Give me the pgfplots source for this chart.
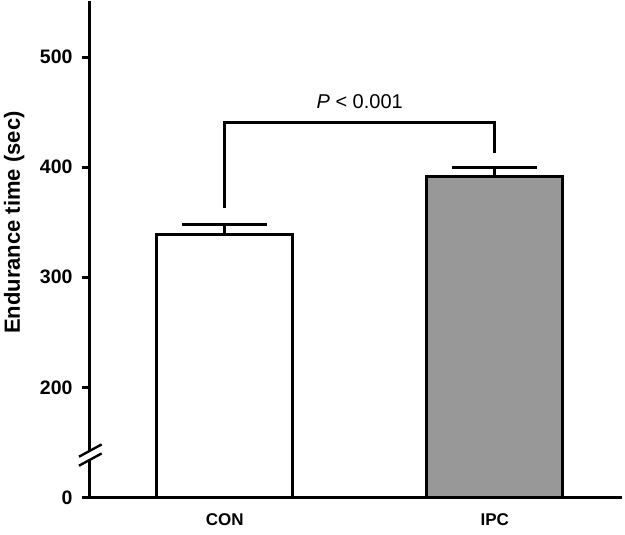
\documentclass[border=0pt]{standalone}
\usepackage{pgfplots}
\pgfplotsset{compat=1.18}
\usepackage{fontspec}
\setmainfont{Liberation Sans}
\begin{document}
\begin{tikzpicture}
\begin{axis}[
  scale only axis, width=532.5pt, height=495.8pt,
  xmin=0.5, xmax=2.4722, ymin=0, ymax=450.7,
  axis x line=bottom, axis y line=left,
  axis line style={-, line width=3pt},
  clip=false,
  xtick={1,2}, xticklabels={CON,IPC},
  ytick={0,100,200,300,400}, yticklabels={0,200,300,400,500},
  tick align=outside, major tick length=8pt,
  y tick style={line width=3pt, black},
  x tick style={draw=none},
  /pgf/number format/assume math mode=true,
  yticklabel style={font=\fontsize{19.5}{20}\selectfont\bfseries, inner sep=0pt, xshift=-9pt},
  xticklabel style={font=\fontsize{17}{20}\selectfont\bfseries, inner sep=0pt, yshift=-8.5pt},
  ylabel={Endurance time (sec)},
  ylabel style={font=\fontsize{22}{24}\selectfont\bfseries, at={(rel axis cs:-0.1418,0.554)}, anchor=center},
  ybar, bar width=136pt,
  error bars/y dir=plus, error bars/y explicit,
  error bars/error bar style={line width=3pt, black},
  error bars/error mark options={rotate=90, mark size=42.5pt, line width=3pt, black},
]
\addplot[fill=white, draw=black, line width=3pt, bar shift=0pt]
  table[x=x, y expr=\thisrow{y}-100, y error=e] {
x y e
1 338.5 9.1
};
\addplot[fill={rgb,255:red,152;green,152;blue,152}, draw=black, line width=3pt, bar shift=0pt]
  table[x=x, y expr=\thisrow{y}-100, y error=e] {
x y e
2 391.5 8.4
};
\draw[line width=3pt] (axis cs:1,263) -- (axis cs:1,341.1) -- (axis cs:2,341.1) -- (axis cs:2,312.6);
\node[anchor=base, font=\fontsize{20}{24}\selectfont, inner sep=0pt] at (axis cs:1.5,353.7) {\textit{P} < 0.001};
\coordinate (a1) at (axis cs:0.4604,36.9);
\coordinate (a2) at (axis cs:0.5444,48.1);
\coordinate (b1) at (axis cs:0.4604,28.7);
\coordinate (b2) at (axis cs:0.5444,39.9);
\coordinate (tl) at (axis cs:0.1678,450.7);
\coordinate (br) at (axis cs:2.4826,-33.8);
\end{axis}
\fill[white] (a1) -- (a2) -- (b2) -- (b1) -- cycle;
\draw[line width=2.4pt] (a1) -- (a2);
\draw[line width=2.4pt] (b1) -- (b2);
\path (tl) (br);
\end{tikzpicture}
\end{document}
